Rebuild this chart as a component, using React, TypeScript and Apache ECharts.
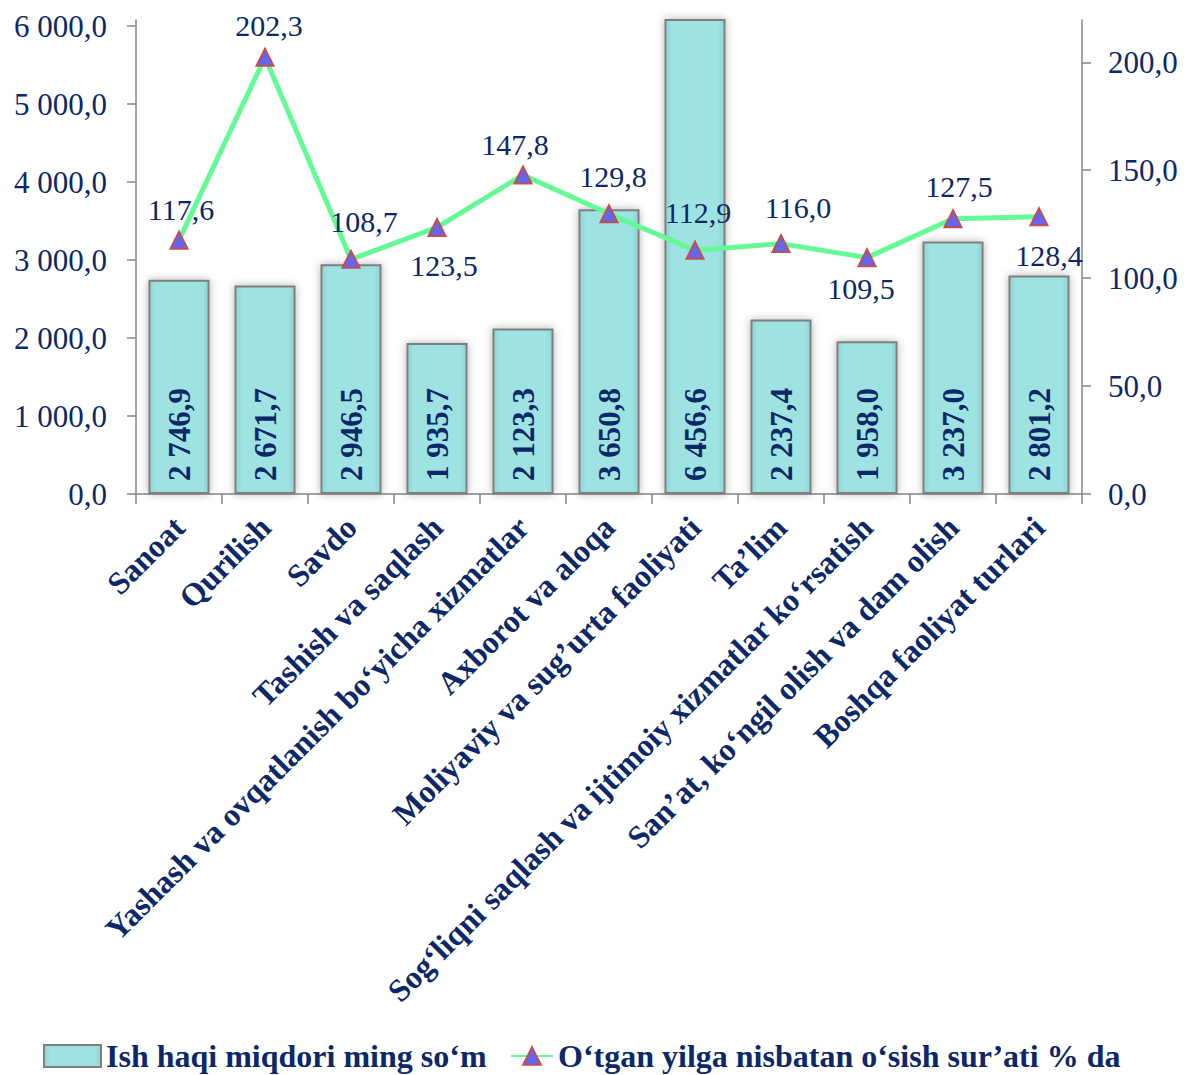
import React, { useEffect, useRef } from "react";
import * as echarts from "echarts";

const categories = [
  "Sanoat",
  "Qurilish",
  "Savdo",
  "Tashish va saqlash",
  "Yashash va ovqatlanish bo‘yicha xizmatlar",
  "Axborot va aloqa",
  "Moliyaviy va sug’urta faoliyati",
  "Ta’lim",
  "Sog‘liqni saqlash va ijtimoiy xizmatlar ko‘rsatish",
  "San’at, ko‘ngil olish va dam olish",
  "Boshqa faoliyat turlari",
];

const wageValues = [2746.9, 2671.7, 2946.5, 1935.7, 2123.3, 3650.8, 6456.6, 2237.4, 1958.0, 3237.0, 2801.2];
const growthValues = [117.6, 202.3, 108.7, 123.5, 147.8, 129.8, 112.9, 116.0, 109.5, 127.5, 128.4];

const barSeriesName = "Ish haqi miqdori ming so‘m";
const lineSeriesName = "O‘tgan yilga nisbatan o‘sish sur’ati % da";

const leftTicks = [0, 1000, 2000, 3000, 4000, 5000, 6000];
const rightTicks = [0, 50, 100, 150, 200];

// label placement for the growth line (above / below point) and fine shifts
const lineLabelPos = ["top", "top", "top", "bottom", "top", "top", "top", "top", "bottom", "top", "bottom"];
const lineLabelShift: [number, number][] = [
  [2, 0],
  [4, -1],
  [13, -7],
  [7, 8],
  [-8, 0],
  [4, -7],
  [3, -7],
  [17, -6],
  [-6, 0],
  [6, -2],
  [10, 8],
];

const NAVY = "#0C2868";
const FONT = "'Liberation Serif', 'Times New Roman', serif";

function fmt(v: number): string {
  const s = v.toFixed(1);
  const [intPart, dec] = s.split(".");
  const withSpaces = intPart.replace(/\B(?=(\d{3})+(?!\d))/g, " ");
  return withSpaces + "," + dec;
}

export default function App() {
  const ref = useRef<HTMLDivElement>(null);

  useEffect(() => {
    if (!ref.current) return;
    const chart = echarts.init(ref.current, undefined, { renderer: "svg" });

    const legendText = {
      fontFamily: FONT,
      fontSize: 32,
      lineHeight: 34,
      fontWeight: "bold",
      color: NAVY,
    };

    const option: any = {
      animation: false,
      backgroundColor: "#ffffff",
      grid: {
        left: 136,
        right: 102,
        top: 20,
        bottom: 581,
        containLabel: false,
      },
      legend: [
        {
          data: [{ name: barSeriesName, icon: "rect" }],
          left: 43,
          top: 1039,
          padding: 0,
          itemWidth: 57,
          itemHeight: 22,
          itemStyle: { borderColor: "#7F7F7F", borderWidth: 2 },
          textStyle: legendText,
        },
        {
          data: [lineSeriesName],
          left: 510,
          top: 1039,
          padding: 0,
          itemWidth: 42,
          itemHeight: 22,
          textStyle: legendText,
        },
      ],
      xAxis: {
        type: "category",
        data: categories,
        axisLine: { lineStyle: { color: "#868686", width: 1.5 } },
        axisTick: { show: true, length: 10, lineStyle: { color: "#868686", width: 1.5 } },
        axisLabel: {
          interval: 0,
          rotate: 45,
          margin: 28,
          fontFamily: FONT,
          fontSize: 32,
          fontWeight: "bold",
          color: NAVY,
        },
      },
      yAxis: [
        {
          type: "value",
          min: 0,
          max: 6077,
          interval: 1000,
          splitLine: { show: false },
          axisLine: { show: true, lineStyle: { color: "#868686", width: 1.5 } },
          axisTick: { show: true, length: 9, customValues: leftTicks, lineStyle: { color: "#868686", width: 1.5 } },
          axisLabel: {
            customValues: leftTicks,
            margin: 29,
            fontFamily: FONT,
            fontSize: 31,
            color: NAVY,
            formatter: (v: number) => fmt(v),
          },
        },
        {
          type: "value",
          min: 0,
          max: 219.6,
          interval: 50,
          splitLine: { show: false },
          axisLine: { show: true, lineStyle: { color: "#868686", width: 1.5 } },
          axisTick: { show: true, length: 9, customValues: rightTicks, lineStyle: { color: "#868686", width: 1.5 } },
          axisLabel: {
            customValues: rightTicks,
            margin: 26,
            fontFamily: FONT,
            fontSize: 31,
            color: NAVY,
            formatter: (v: number) => fmt(v),
          },
        },
      ],
      series: [
        {
          name: barSeriesName,
          type: "bar",
          yAxisIndex: 0,
          data: wageValues,
          barWidth: "71%",
          clip: true,
          itemStyle: {
            color: {
              type: "linear",
              x: 0,
              y: 0,
              x2: 1,
              y2: 0,
              colorStops: [
                { offset: 0, color: "#8FD6D4" },
                { offset: 0.12, color: "#9EE3E1" },
                { offset: 0.88, color: "#9EE3E1" },
                { offset: 1, color: "#8FD6D4" },
              ],
            },
            borderColor: "#7F7F7F",
            borderWidth: 2,
            shadowBlur: 8,
            shadowColor: "rgba(0,0,0,0.3)",
          },
          label: {
            show: true,
            position: "insideBottom",
            rotate: 90,
            align: "left",
            verticalAlign: "middle",
            distance: 13,
            fontFamily: FONT,
            fontSize: 31,
            fontWeight: "bold",
            color: NAVY,
            formatter: (p: any) => fmt(p.value),
          },
        },
        {
          name: lineSeriesName,
          type: "line",
          yAxisIndex: 1,
          data: growthValues.map((v, i) => ({
            value: v,
            label: {
              position: lineLabelPos[i],
              offset: lineLabelShift[i],
            },
          })),
          symbol: "triangle",
          symbolSize: 17,
          lineStyle: { color: "#64FA96", width: 5 },
          itemStyle: { color: "#6464F5", borderColor: "#C0504D", borderWidth: 2 },
          label: {
            show: true,
            distance: 6,
            fontFamily: FONT,
            fontSize: 30,
            color: NAVY,
            formatter: (p: any) => fmt(p.value),
          },
          z: 5,
        },
      ],
    };

    chart.setOption(option);
    return () => {
      chart.dispose();
    };
  }, []);

  return (
    <div
      ref={ref}
      style={{ position: "absolute", left: 0, top: 0, width: 1184, height: 1075 }}
    />
  );
}
